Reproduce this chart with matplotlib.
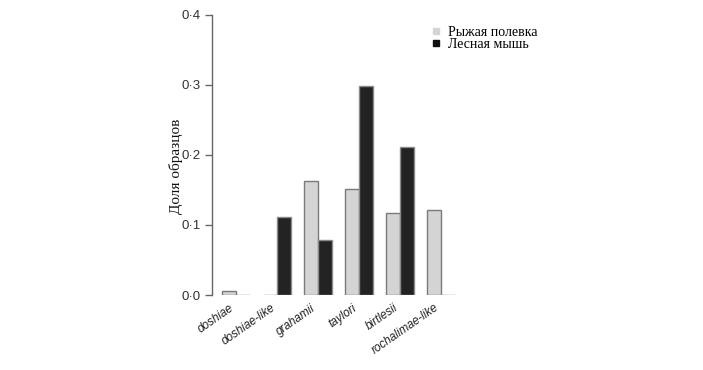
import numpy as np
import matplotlib
matplotlib.use("Agg")
import matplotlib.pyplot as plt
from matplotlib.lines import Line2D
from matplotlib.ticker import FuncFormatter

# Bartonella species and share of samples per host
species = ["doshiae", "doshiae-like", "grahamii", "taylori", "birtlesii", "rochalimae-like"]
vole = [0.006, 0.0, 0.163, 0.151, 0.117, 0.122]      # Рыжая полевка
mouse = [0.0, 0.111, 0.078, 0.299, 0.211, 0.0]       # Лесная мышь
series_names = ["Рыжая полевка", "Лесная мышь"]
yticks = [0.0, 0.1, 0.2, 0.3, 0.4]

fig = plt.figure(figsize=(7.03, 3.70), dpi=100)
ax = fig.add_axes([0.3016, 0.2027, 0.3528, 0.7568])

x = np.arange(len(species))
w = 0.34
ax.bar(x - w / 2, vole, width=w, color="#d4d4d4", edgecolor="#7a7a7a", linewidth=1.0)
ax.bar(x + w / 2, mouse, width=w, color="#232323", edgecolor="#8a8a8a", linewidth=1.0)

ax.set_xlim(-0.585, 5.46)
ax.set_ylim(0, 0.4)
ax.set_yticks(yticks)
ax.yaxis.set_major_formatter(FuncFormatter(lambda v, p: f"{v:.1f}".replace(".", "·")))

for s in ["top", "right", "bottom"]:
    ax.spines[s].set_visible(False)
ax.spines["left"].set_color("#666666")
ax.spines["left"].set_linewidth(1.0)
ax.tick_params(axis="y", length=5, width=1.0, color="#666666", labelsize=9.5, pad=3)
for lbl in ax.get_yticklabels():
    lbl.set_fontfamily("Liberation Sans")
    lbl.set_color("#333333")

ax.set_xticks(x)
ax.set_xticklabels(species, rotation=35, ha="right", fontsize=8.5,
                   fontstyle="italic", family="Liberation Sans", color="#222222")
ax.tick_params(axis="x", length=0, pad=5)

ax.set_ylabel("Доля образцов", family="Liberation Serif", fontsize=11, color="#111111")
ax.yaxis.set_label_coords(-0.117, 0.46)

handles = [
    Line2D([], [], marker="s", linestyle="none", markersize=4.5, color="#d4d4d4"),
    Line2D([], [], marker="s", linestyle="none", markersize=4.5, color="#111111"),
]
fig.legend(handles, series_names, loc="upper left", bbox_to_anchor=(0.603, 0.945),
           frameon=False, prop={"family": "Liberation Serif", "size": 10},
           handletextpad=0.3, labelspacing=-0.05, handlelength=1.0, borderaxespad=0)

fig.savefig("out.png", dpi=100)
